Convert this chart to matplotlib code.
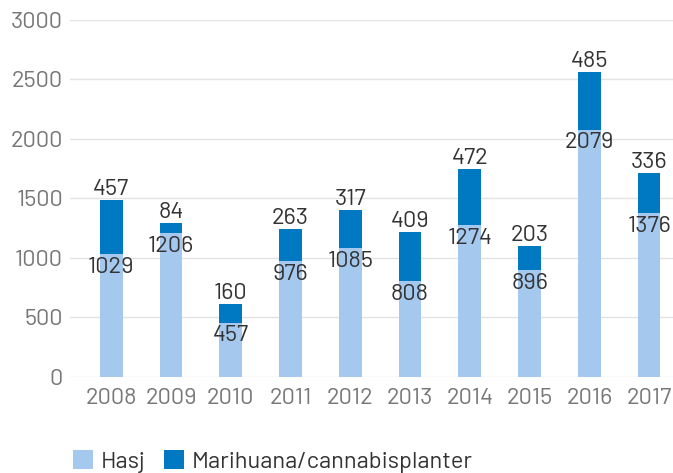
import numpy as np
import matplotlib.pyplot as plt

years = ["2008", "2009", "2010", "2011", "2012", "2013", "2014", "2015", "2016", "2017"]
hasj = [1029, 1206, 457, 976, 1085, 808, 1274, 896, 2079, 1376]
marihuana = [457, 84, 160, 263, 317, 409, 472, 203, 485, 336]

plt.rcParams['font.family'] = ['Barlow', 'DejaVu Sans']

light = "#a5c9ee"
dark = "#0079c2"
fs = 17

fig = plt.figure(figsize=(6.73, 4.73), dpi=100)
ax = fig.add_axes([0.104, 0.203, 0.896, 0.755])

x = np.arange(len(years))
w = 0.38
ax.bar(x, hasj, w, color=light, zorder=2, label="Hasj")
ax.bar(x, marihuana, w, bottom=hasj, color=dark, zorder=2, label="Marihuana/cannabisplanter")

for i in range(len(years)):
    ax.annotate(str(hasj[i]), (x[i], hasj[i]), xytext=(0, -2), textcoords="offset points",
                ha="center", va="top", fontsize=fs, color="#333333", zorder=3)
    ax.annotate(str(marihuana[i]), (x[i], hasj[i] + marihuana[i]), xytext=(0, 0),
                textcoords="offset points", ha="center", va="bottom", fontsize=fs,
                color="#333333", zorder=3)

ax.set_ylim(0, 3000)
ax.set_xlim(-0.69, 9.4)
ax.set_yticks(range(0, 3001, 500))
ax.set_xticks(x)
ax.set_xticklabels(years)
ax.grid(axis="y", color="#e3e3e3", linewidth=1, zorder=0)
ax.tick_params(length=0, labelsize=fs, labelcolor="#777777")
ax.tick_params(axis="x", pad=8)
ax.tick_params(axis="y", pad=5)
for s in ax.spines.values():
    s.set_visible(False)

ax.legend(loc="lower left", bbox_to_anchor=(-0.01, -0.295), ncol=2, frameon=False,
          fontsize=fs, handlelength=0.85, handleheight=0.85, handletextpad=0.3,
          columnspacing=0.8, labelcolor="#333333", borderaxespad=0)

plt.savefig("out.png", dpi=100)
